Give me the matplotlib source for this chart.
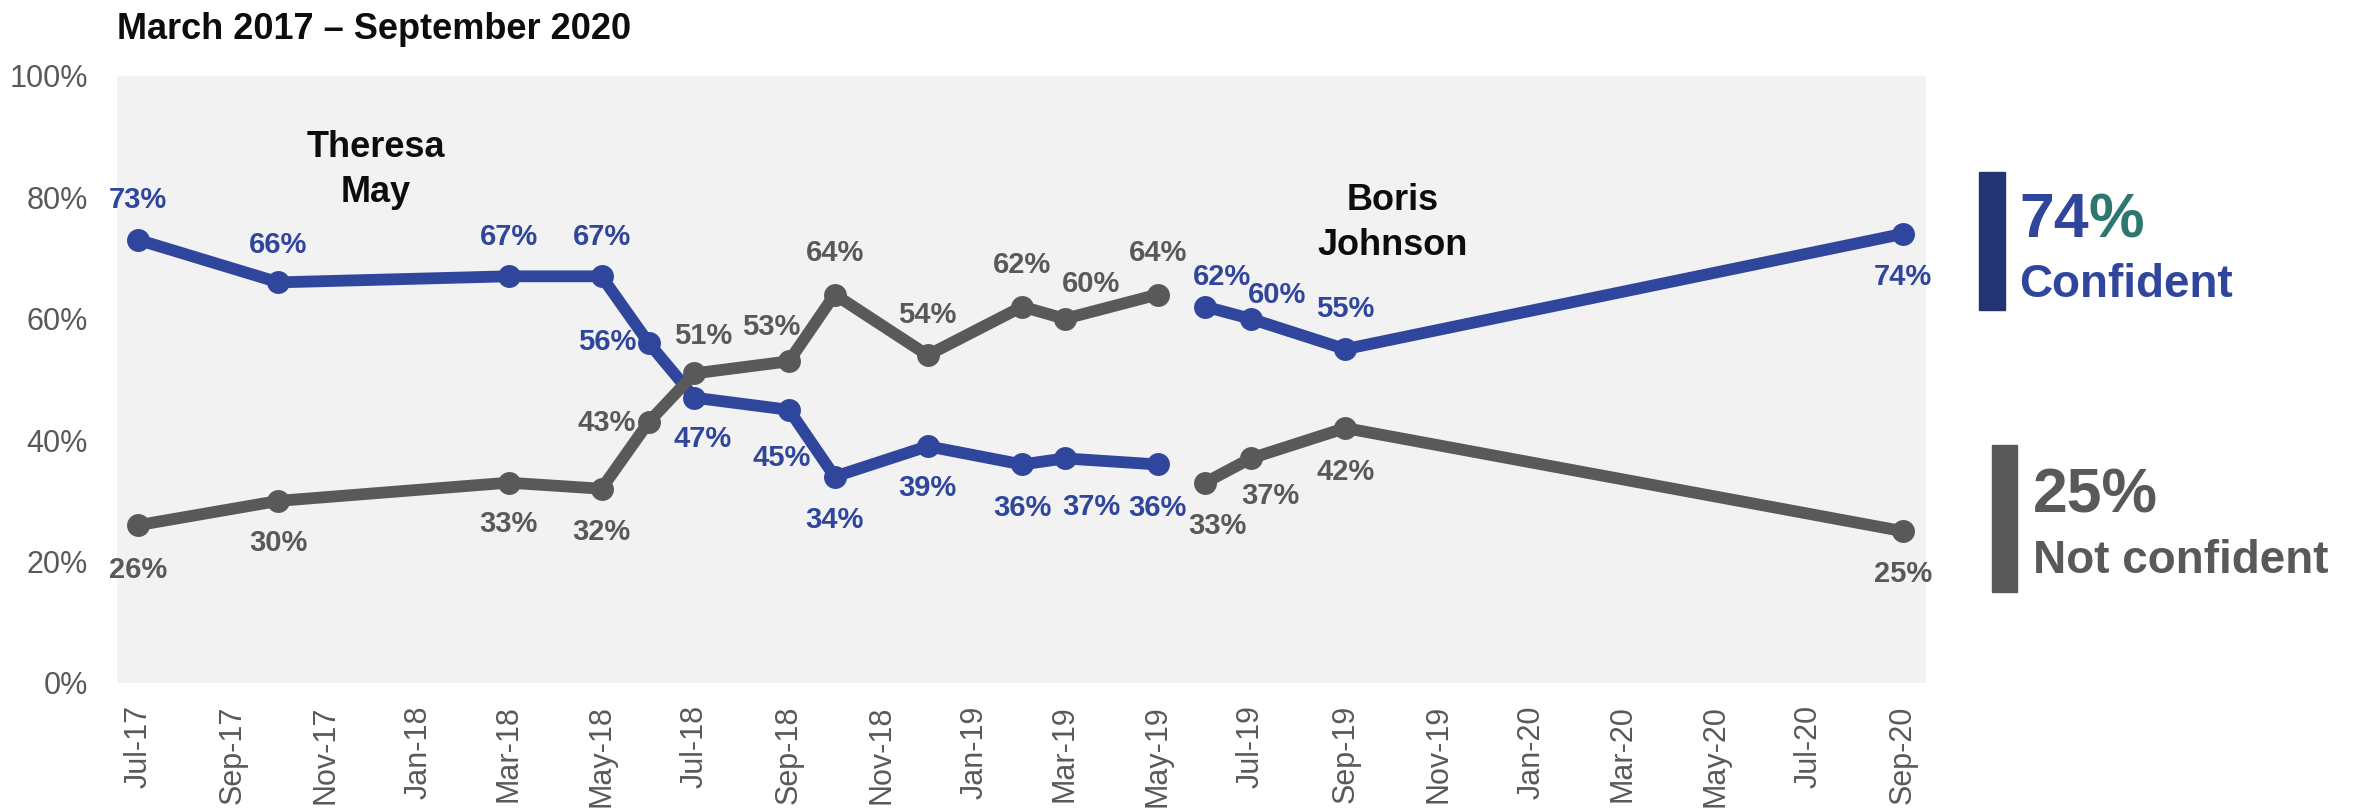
import pandas as pd
import matplotlib
matplotlib.use("Agg")
import matplotlib.pyplot as plt
import matplotlib.dates as mdates
from matplotlib.patches import Rectangle

plt.rcParams['font.family'] = ['Liberation Sans', 'DejaVu Sans']

# ==========================================
# data
# ==========================================
survey_months = ['2017-07', '2017-10', '2018-03', '2018-05', '2018-06', '2018-07',
                 '2018-09', '2018-10', '2018-12', '2019-02', '2019-03', '2019-05',
                 '2019-06', '2019-07', '2019-09', '2020-09']
confident = [73, 66, 67, 67, 56, 47, 45, 34, 39, 36, 37, 36, 62, 60, 55, 74]
not_confident = [26, 30, 33, 32, 43, 51, 53, 64, 54, 62, 60, 64, 33, 37, 42, 25]
prime_minister = ['May'] * 12 + ['Johnson'] * 4

title = 'March 2017 \u2013 September 2020'
pm_names = {'May': 'Theresa\nMay', 'Johnson': 'Boris\nJohnson'}

# label nudges in points (layout only)
conf_offsets = [(0, 29), (0, 27), (0, 28), (0, 28), (-30, 1), (6, -30), (-5, -35), (0, -31),
                (0, -30), (0, -31), (19, -35), (0, -31), (12, 21), (19, 17), (0, 29), (0, -31)]
not_offsets = [(0, -32), (0, -30), (0, -30), (0, -31), (-30, -1), (6, 27), (-13, 25), (0, 30),
               (0, 29), (0, 30), (19, 25), (0, 30), (9, -31), (14, -27), (0, -32), (0, -31)]

BLUE = '#30469C'
GREY = '#595959'
NAVY = '#243372'
TEAL = '#2E7670'

df = pd.DataFrame({'date': pd.to_datetime(survey_months), 'conf': confident,
                   'notconf': not_confident, 'pm': prime_minister})

fig = plt.figure(figsize=(23.66, 8.10), dpi=100)
ax = fig.add_axes([0.0494, 0.1568, 0.7646, 0.7494])
ax.set_facecolor('#F2F2F2')
for s in ax.spines.values():
    s.set_visible(False)

# one line segment per prime minister, gap in between
for col, color in [('conf', BLUE), ('notconf', GREY)]:
    for name in ['May', 'Johnson']:
        part = df[df.pm == name]
        ax.plot(part.date, part[col], color=color, lw=8.5, marker='o', ms=16.5,
                mew=0, solid_capstyle='round', zorder=3)

for col, color, offs in [('conf', BLUE, conf_offsets), ('notconf', GREY, not_offsets)]:
    for (d, v), off in zip(zip(df.date, df[col]), offs):
        ax.annotate(f'{v}%', (d, v), xytext=off, textcoords='offset points',
                    ha='center', va='center', color=color, fontsize=21,
                    fontweight='bold', zorder=5)

ax.set_ylim(0, 100)
ax.set_yticks(range(0, 101, 20))
ax.set_yticklabels([f'{t}%' for t in range(0, 101, 20)])
ax.set_xlim(pd.Timestamp('2017-06-17'), pd.Timestamp('2020-09-16'))
ax.xaxis.set_major_locator(mdates.MonthLocator(bymonth=[1, 3, 5, 7, 9, 11]))
ax.xaxis.set_major_formatter(mdates.DateFormatter('%b-%y'))
ax.tick_params(axis='x', length=0, pad=16, labelsize=22, labelcolor=GREY, labelrotation=90)
ax.tick_params(axis='y', length=0, pad=21, labelsize=22, labelcolor=GREY)

# prime minister names
ax.text(0.143, 0.845, pm_names['May'], transform=ax.transAxes, ha='center', va='center',
        fontsize=26, fontweight='bold', color='#0D0D0D', linespacing=1.38)
ax.text(0.705, 0.758, pm_names['Johnson'], transform=ax.transAxes, ha='center', va='center',
        fontsize=26, fontweight='bold', color='#0D0D0D', linespacing=1.38)

fig.text(0.0494, 0.952, title, fontsize=26, fontweight='bold', color='#0D0D0D', va='baseline')

# latest values on the right
fig.patches.append(Rectangle((0.8364, 0.6173), 0.011, 0.1704, transform=fig.transFigure,
                             color=NAVY))
fig.patches.append(Rectangle((0.8419, 0.2691), 0.0106, 0.1815, transform=fig.transFigure,
                             color=GREY))
t74 = fig.text(0.8533, 0.7074, f'{confident[-1]}', fontsize=45, fontweight='bold',
               color=BLUE, va='baseline')
ax.annotate('%', xy=(1, 0), xycoords=t74, ha='left', va='bottom', fontsize=45,
            fontweight='bold', color=TEAL, annotation_clip=False)
fig.text(0.8533, 0.6333, 'Confident', fontsize=33, fontweight='bold', color=BLUE, va='baseline')
fig.text(0.8593, 0.3667, f'{not_confident[-1]}%', fontsize=45, fontweight='bold',
         color=GREY, va='baseline')
fig.text(0.8593, 0.2926, 'Not confident', fontsize=33, fontweight='bold', color=GREY,
         va='baseline')

fig.savefig('out.png', dpi=100)
